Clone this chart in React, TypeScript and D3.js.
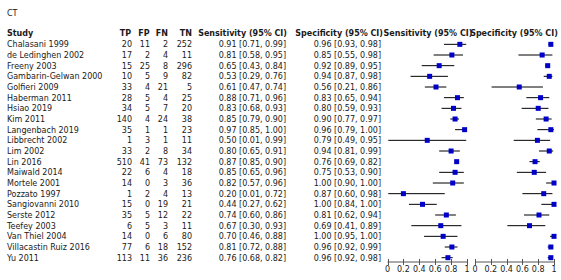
import React from "react";
import * as d3 from "d3";

const studies = [
  "Chalasani 1999", "de Ledinghen 2002", "Freeny 2003", "Gambarin-Gelwan 2000", "Golfieri 2009",
  "Haberman 2011", "Hsiao 2019", "Kim 2011", "Langenbach 2019", "Libbrecht 2002", "Lim 2002",
  "Lin 2016", "Maiwald 2014", "Mortele 2001", "Pozzato 1997", "Sangiovanni 2010", "Serste 2012",
  "Teefey 2003", "Van Thiel 2004", "Villacastin Ruiz 2016", "Yu 2011",
];
const TP = [20, 17, 15, 10, 33, 28, 34, 140, 35, 1, 33, 510, 22, 14, 1, 15, 35, 6, 14, 77, 113];
const FP = [11, 2, 25, 5, 4, 5, 5, 4, 1, 3, 2, 41, 6, 0, 2, 0, 5, 5, 0, 6, 11];
const FN = [2, 4, 8, 9, 21, 4, 7, 24, 1, 1, 8, 73, 4, 3, 4, 19, 12, 3, 6, 18, 36];
const TN = [252, 11, 296, 82, 5, 25, 20, 38, 23, 11, 34, 132, 18, 36, 13, 21, 22, 11, 80, 152, 236];
const sens = [0.91, 0.81, 0.65, 0.53, 0.61, 0.88, 0.83, 0.85, 0.97, 0.5, 0.8, 0.87, 0.85, 0.82, 0.2, 0.44, 0.74, 0.67, 0.7, 0.81, 0.76];
const sensLo = [0.71, 0.58, 0.43, 0.29, 0.47, 0.71, 0.68, 0.79, 0.85, 0.01, 0.65, 0.85, 0.65, 0.57, 0.01, 0.27, 0.6, 0.3, 0.46, 0.72, 0.68];
const sensHi = [0.99, 0.95, 0.84, 0.76, 0.74, 0.96, 0.93, 0.9, 1.0, 0.99, 0.91, 0.9, 0.96, 0.96, 0.72, 0.62, 0.86, 0.93, 0.88, 0.88, 0.82];
const spec = [0.96, 0.85, 0.92, 0.94, 0.56, 0.83, 0.8, 0.9, 0.96, 0.79, 0.94, 0.76, 0.75, 1.0, 0.87, 1.0, 0.81, 0.69, 1.0, 0.96, 0.96];
const specLo = [0.93, 0.55, 0.89, 0.87, 0.21, 0.65, 0.59, 0.77, 0.79, 0.49, 0.81, 0.69, 0.53, 0.9, 0.6, 0.84, 0.62, 0.41, 0.95, 0.92, 0.92];
const specHi = [0.98, 0.98, 0.95, 0.98, 0.86, 0.94, 0.93, 0.97, 1.0, 0.95, 0.99, 0.82, 0.9, 1.0, 0.98, 1.0, 0.94, 0.89, 1.0, 0.99, 0.98];
const tickValues = [0, 0.2, 0.4, 0.6, 0.8, 1];

const font = "'DejaVu Sans', Verdana, sans-serif";
const fmt = d3.format(".2f");

export default function App() {
  const yScale = d3.scaleLinear().domain([0, 1]).range([44.333, 55]);
  const xSens = d3.scaleLinear().domain([0, 1]).range([387.5, 467]);
  const xSpec = d3.scaleLinear().domain([0, 1]).range([475, 554]);
  const axisY = 262;
  const txt = "#1a1a1a";

  const ci = (v: number, lo: number, hi: number) => `${fmt(v)} [${fmt(lo)}, ${fmt(hi)}]`;

  const plot = (x: d3.ScaleLinear<number, number>, v: number[], lo: number[], hi: number[], key: string) => (
    <g key={key}>
      {v.map((d, i) => {
        const y = yScale(i);
        return (
          <g key={i}>
            <line x1={x(lo[i])} x2={x(hi[i])} y1={y} y2={y} stroke="#000" strokeWidth={1} />
            <rect x={x(d) - 2.5} y={y - 2.5} width={5} height={5} fill="#0000c8" />
          </g>
        );
      })}
      <line x1={x(0)} x2={x(1)} y1={axisY} y2={axisY} stroke="#555" strokeWidth={1} />
      {tickValues.map((t) => (
        <g key={t}>
          <line x1={Math.round(x(t)) + 0.5} x2={Math.round(x(t)) + 0.5} y1={axisY - 3} y2={axisY + 3} stroke="#555" strokeWidth={1} />
          <text x={x(t)} y={axisY + 10} textAnchor="middle" fontSize={8} fill={txt}>
            {d3.format("~g")(t)}
          </text>
        </g>
      ))}
    </g>
  );

  return (
    <svg
      width={561}
      height={280}
      style={{ position: "absolute", left: 0, top: 0, background: "#fff", fontFamily: font }}
    >
      <rect width={561} height={280} fill="#fff" />
      <text x={7} y={16} fontSize={8} fill={txt}>CT</text>
      <g fontWeight="bold" fontSize={8} fill={txt}>
        <text x={7} y={36}>Study</text>
        <text x={131} y={36} textAnchor="end">TP</text>
        <text x={149.5} y={36} textAnchor="end">FP</text>
        <text x={168} y={36} textAnchor="end">FN</text>
        <text x={192} y={36} textAnchor="end">TN</text>
        <text x={287} y={36} textAnchor="end">Sensitivity (95% CI)</text>
        <text x={383} y={36} textAnchor="end">Specificity (95% CI)</text>
        <text x={428} y={36} textAnchor="middle">Sensitivity (95% CI)</text>
        <text x={514} y={36} textAnchor="middle">Specificity (95% CI)</text>
      </g>
      <g fontSize={8} fill={txt}>
        {studies.map((s, i) => {
          const y = yScale(i) + 3;
          return (
            <g key={s}>
              <text x={7} y={y}>{s}</text>
              <text x={132} y={y} textAnchor="end">{TP[i]}</text>
              <text x={150} y={y} textAnchor="end">{FP[i]}</text>
              <text x={168} y={y} textAnchor="end">{FN[i]}</text>
              <text x={192} y={y} textAnchor="end">{TN[i]}</text>
              <text x={286} y={y} textAnchor="end">{ci(sens[i], sensLo[i], sensHi[i])}</text>
              <text x={381} y={y} textAnchor="end">{ci(spec[i], specLo[i], specHi[i])}</text>
            </g>
          );
        })}
      </g>
      {plot(xSens, sens, sensLo, sensHi, "sens")}
      {plot(xSpec, spec, specLo, specHi, "spec")}
    </svg>
  );
}
